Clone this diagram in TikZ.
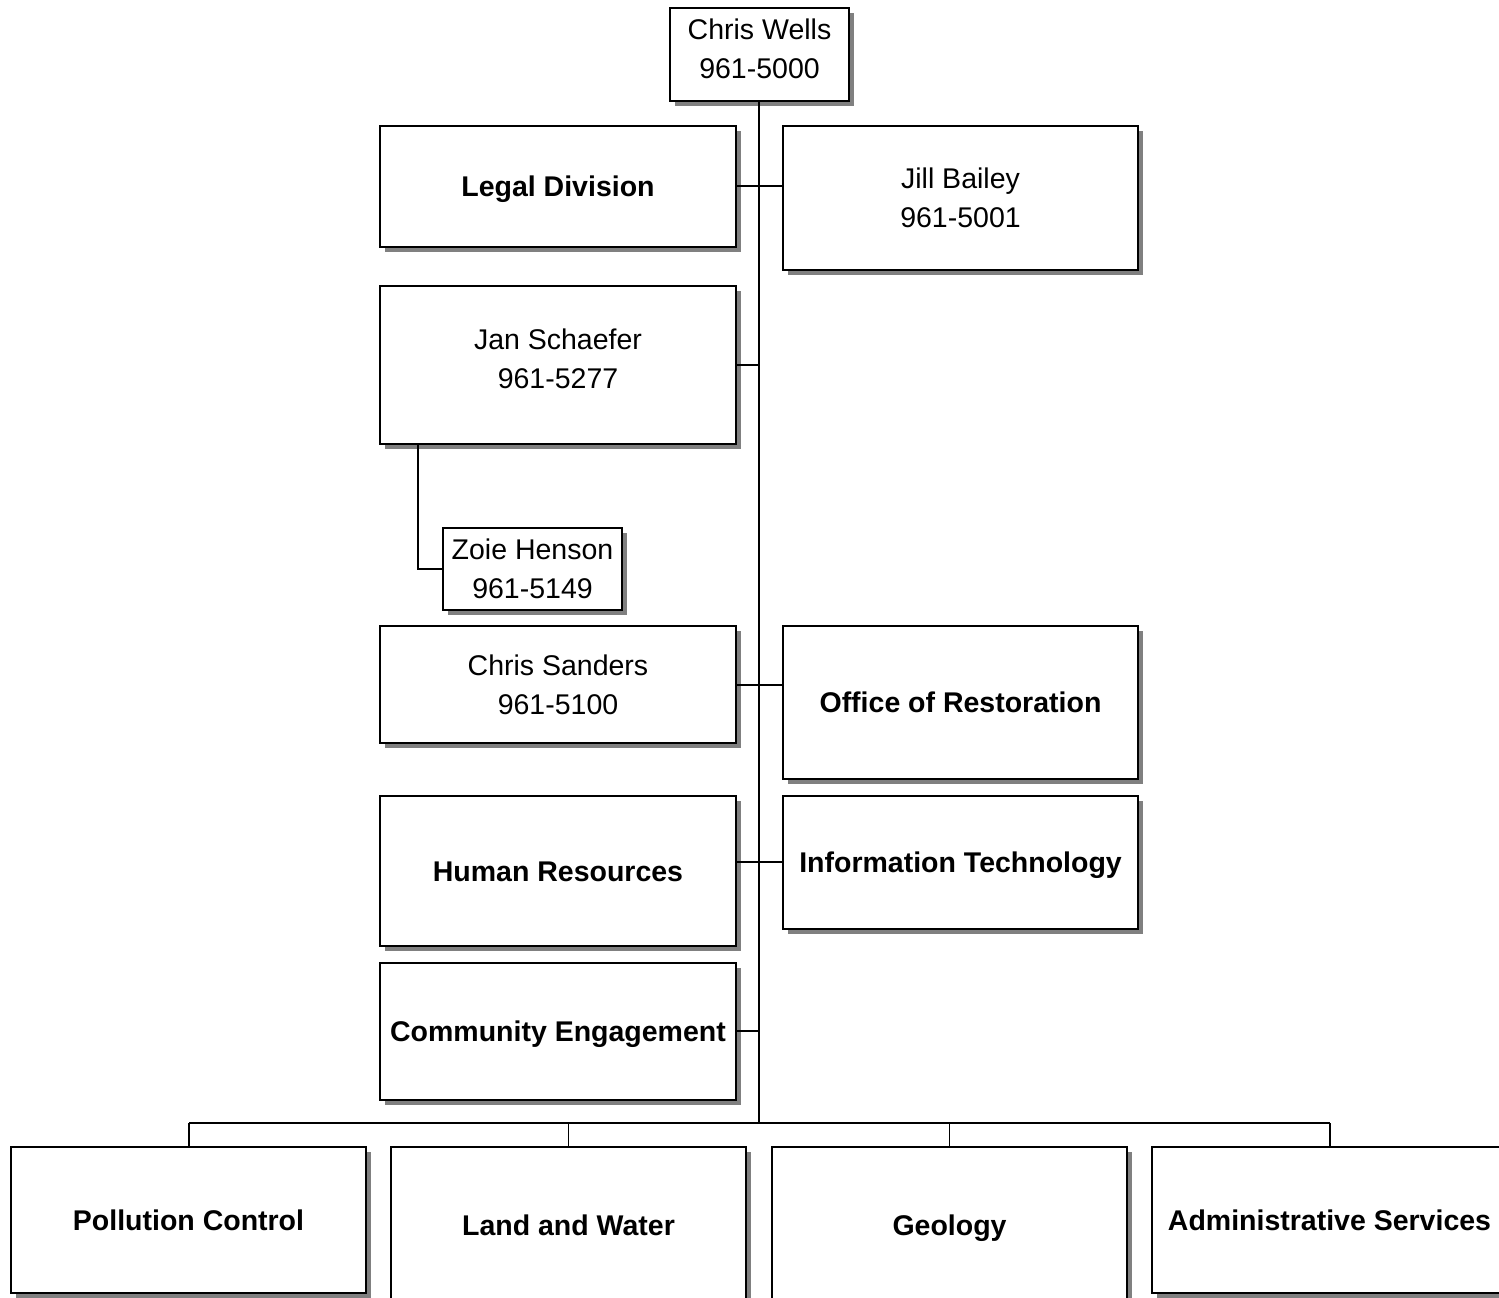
\documentclass[tikz,border=0pt]{standalone}
\usepackage{fontspec}
\setmainfont{Liberation Sans}
\usetikzlibrary{shadows}
\begin{document}
\begin{tikzpicture}[x=1pt,y=-1pt,
  every node/.style={font=\fontsize{28.5}{39}\selectfont},
  box/.style={draw=black, line width=1.8pt, fill=white, rectangle, inner sep=0pt,
    align=center,
    general shadow={fill=black!50, shadow xshift=5pt, shadow yshift=-5pt}},
  wide/.style={box, minimum width=356pt},
  bold/.style={font=\fontsize{28.5}{39}\selectfont\bfseries, text height=20.5pt, text depth=0pt},
  conn/.style={draw=black, line width=1.4pt}]
\path[use as bounding box, clip] (0,0) rectangle (1499,1298);

% top
\node[box, minimum width=179pt, minimum height=93pt,
  label={[yshift=6pt, align=center]center:Chris Wells\\961-5000}] (cw) at (759.5,54.5) {};

% left/right column
\node[wide, bold, minimum height=121pt] (legal) at (558,186.5) {Legal Division};
\node[wide, minimum width=355pt, minimum height=144pt] (jill) at (960.5,198) {Jill Bailey\\961-5001};
\node[wide, minimum height=158pt,
  label={[yshift=6.5pt, align=center]center:Jan Schaefer\\961-5277}] (jan) at (558,365) {};
\node[box, minimum width=179pt, minimum height=82pt] (zoie) at (532.5,569) {Zoie Henson\\961-5149};
\node[wide, minimum height=117pt] (sanders) at (558,684.5) {Chris Sanders\\961-5100};
\node[wide, bold, minimum width=355pt, minimum height=153pt] (rest) at (960.5,702.5) {Office of Restoration};
\node[wide, bold, minimum height=150pt] (hr) at (558,871) {Human Resources};
\node[wide, bold, minimum width=355pt, minimum height=133pt] (it) at (960.5,862.5) {Information Technology};
\node[wide, bold, minimum height=137pt] (ce) at (558,1031.5) {Community Engagement};

% bottom row
\node[wide, bold, minimum width=355pt, minimum height=146pt] (pc) at (188.5,1220) {Pollution Control};
\node[wide, bold, minimum width=355pt, minimum height=156pt] (lw) at (568.5,1225) {Land and Water};
\node[wide, bold, minimum width=355pt, minimum height=156pt] (geo) at (949.5,1225) {Geology};
\node[wide, bold, minimum width=355pt, minimum height=146pt] (adm) at (1329.5,1220) {Administrative Services};

% connectors
\coordinate (bus) at (759,1123);
\coordinate (busL) at (189,1123);
\coordinate (busR) at (1330,1123);
\draw[conn] (cw.south -| bus) -- (bus);
\draw[conn] (legal.east |- 0,186) -- (jill.west |- 0,186);
\draw[conn] (jan.east) -- (jan.east -| bus);
\draw[conn] ([xshift=39pt]jan.south west) |- (zoie.west);
\draw[conn] (sanders.east |- 0,685) -- (rest.west |- 0,685);
\draw[conn] (hr.east |- 0,862) -- (it.west |- 0,862);
\draw[conn] (ce.east |- 0,1031) -- (bus |- 0,1031);
\draw[conn] (busL) -- (busR);
\draw[conn] (busL) -- (busL |- pc.north);
\draw[conn] (bus -| lw.north) -- (lw.north);
\draw[conn] (bus -| geo.north) -- (geo.north);
\draw[conn] (busR) -- (busR |- adm.north);
\end{tikzpicture}
\end{document}
